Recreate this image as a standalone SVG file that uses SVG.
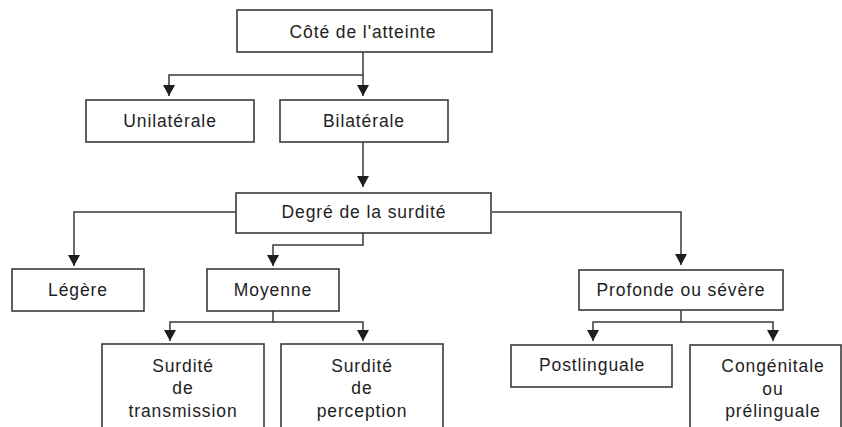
<svg xmlns="http://www.w3.org/2000/svg" width="842" height="427" viewBox="0 0 842 427">
<style>
.box{fill:#ffffff;stroke:#3a3a3a;stroke-width:1.6}
.lbl{font-family:"Liberation Sans",Arial,Helvetica,sans-serif;font-size:17.5px;letter-spacing:0.9px;fill:#222222;text-anchor:middle}
.conn{fill:none;stroke:#3a3a3a;stroke-width:1.5}
</style>
<defs>
<marker id="arr" markerUnits="userSpaceOnUse" viewBox="0 -6 11 12" refX="11" refY="0" markerWidth="11" markerHeight="12" orient="auto">
<path d="M0,-6 L11,0 L0,6 z" fill="#1e1e1e"/>
</marker>
</defs>
<rect width="842" height="427" fill="#ffffff"/>
<g id="connectors">
<path class="conn" d="M363,52 V75 H169 V96" marker-end="url(#arr)"/>
<path class="conn" d="M363,75 V96" marker-end="url(#arr)"/>
<path class="conn" d="M363,142 V187" marker-end="url(#arr)"/>
<path class="conn" d="M236,212 H74 V266" marker-end="url(#arr)"/>
<path class="conn" d="M363,233 V245 H273 V266" marker-end="url(#arr)"/>
<path class="conn" d="M492,212 H681 V265" marker-end="url(#arr)"/>
<path class="conn" d="M273,311 V322 H170 V341" marker-end="url(#arr)"/>
<path class="conn" d="M273,322 H363 V341" marker-end="url(#arr)"/>
<path class="conn" d="M681,310 V322 H593 V341" marker-end="url(#arr)"/>
<path class="conn" d="M681,322 H773 V341" marker-end="url(#arr)"/>
</g>
<g id="cote">
<rect class="box" x="237" y="10" width="255" height="42"/>
<text class="lbl" x="363" y="38">Côté de l'atteinte</text>
</g>
<g id="unilaterale">
<rect class="box" x="86" y="100" width="168" height="42"/>
<text class="lbl" x="170" y="127">Unilatérale</text>
</g>
<g id="bilaterale">
<rect class="box" x="280" y="100" width="168" height="42"/>
<text class="lbl" x="364" y="127">Bilatérale</text>
</g>
<g id="degre">
<rect class="box" x="236" y="193" width="255" height="40"/>
<text class="lbl" x="364" y="218">Degré de la surdité</text>
</g>
<g id="legere">
<rect class="box" x="12" y="269" width="132" height="42"/>
<text class="lbl" x="78" y="296">Légère</text>
</g>
<g id="moyenne">
<rect class="box" x="207" y="269" width="132" height="42"/>
<text class="lbl" x="273" y="296">Moyenne</text>
</g>
<g id="profonde">
<rect class="box" x="579" y="270" width="204" height="40"/>
<text class="lbl" x="681" y="296">Profonde ou sévère</text>
</g>
<g id="transmission">
<rect class="box" x="102" y="344" width="162" height="100"/>
<text class="lbl" x="183" y="372">Surdité</text>
<text class="lbl" x="183" y="394">de</text>
<text class="lbl" x="183" y="417">transmission</text>
</g>
<g id="perception">
<rect class="box" x="281" y="344" width="162" height="100"/>
<text class="lbl" x="362" y="372">Surdité</text>
<text class="lbl" x="362" y="394">de</text>
<text class="lbl" x="362" y="417">perception</text>
</g>
<g id="postlinguale">
<rect class="box" x="511" y="345" width="161" height="42"/>
<text class="lbl" x="592" y="371">Postlinguale</text>
</g>
<g id="congenitale">
<rect class="box" x="690" y="345" width="151" height="100"/>
<text class="lbl" x="773" y="372">Congénitale</text>
<text class="lbl" x="773" y="395">ou</text>
<text class="lbl" x="773" y="417">prélinguale</text>
</g>
</svg>
